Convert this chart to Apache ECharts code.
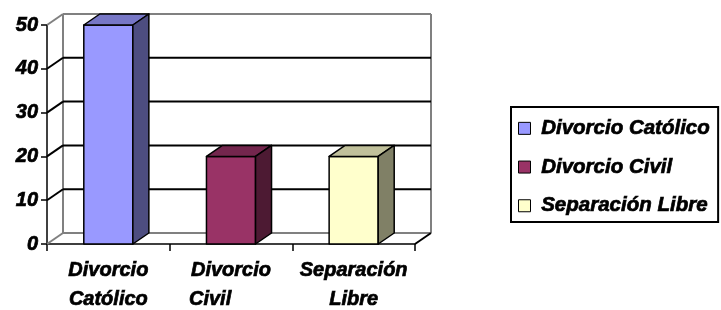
<!DOCTYPE html>
<html>
<head>
<meta charset="utf-8">
<script src="https://cdn.jsdelivr.net/npm/echarts@6/dist/echarts.min.js"></script>
<style>
  html, body { margin: 0; padding: 0; background: #fff; }
  #chart { width: 721px; height: 310px; }
</style>
</head>
<body>
<div id="chart"></div>
<script>
var categories = ['Divorcio\nCatólico', 'Divorcio\nCivil', 'Separación\nLibre'];
var seriesNames = ['Divorcio Católico', 'Divorcio Civil', 'Separación Libre'];
var values = [50, 20, 20];
var yTicks = [0, 10, 20, 30, 40, 50];

var frontColors = ['#9999FF', '#993366', '#FFFFCC'];
var topColors = ['#7777C6', '#73264D', '#C0C09A'];
var sideColors = ['#4D4D80', '#4D1A33', '#808066'];

var DX = 16, DY = -11;
var font = '"Liberation Sans", Arial, sans-serif';

var chart = echarts.init(document.getElementById('chart'));

// back wall, side wall and floor lines
function renderFrame(params, api) {
  var v = api.value(1);
  var cs = params.coordSys;
  var x0 = cs.x, x1 = cs.x + cs.width;
  var y = api.coord([0, v])[1];
  var edge = (v === 0 || v === 50);
  var col = edge ? '#808080' : '#000';
  var kids = [
    { type: 'line', shape: { x1: x0, y1: y, x2: x0 + DX, y2: y + DY },
      style: { stroke: col, lineWidth: 2 } },
    { type: 'line', shape: { x1: x0 + DX, y1: y + DY, x2: x1 + DX, y2: y + DY },
      style: { stroke: col, lineWidth: 2 } }
  ];
  if (v === 0) {
    var yTop = api.coord([0, 50])[1];
    kids.push({ type: 'line', shape: { x1: x0 + DX, y1: y + DY, x2: x0 + DX, y2: yTop + DY },
      style: { stroke: '#808080', lineWidth: 2 } });
    kids.push({ type: 'line', shape: { x1: x1 + DX, y1: y + DY, x2: x1 + DX, y2: yTop + DY },
      style: { stroke: '#808080', lineWidth: 2 } });
    kids.push({ type: 'line', shape: { x1: x1, y1: y, x2: x1 + DX, y2: y + DY },
      style: { stroke: '#000', lineWidth: 2 } });
  }
  return { type: 'group', children: kids };
}

function renderBar(params, api) {
  var i = params.seriesIndex - 1;
  var idx = api.value(0);
  var base = api.coord([idx, 0]);
  var top = api.coord([idx, api.value(1)]);
  var w = api.size([1, 0])[0] * 0.4;
  var xa = base[0] - w / 2, xb = base[0] + w / 2;
  var yb = base[1], yt = top[1];
  var st = { stroke: '#000', lineWidth: 1.5, lineJoin: 'round' };
  return {
    type: 'group',
    children: [
      { type: 'polygon', shape: { points: [[xa, yb], [xb, yb], [xb, yt], [xa, yt]] },
        style: Object.assign({ fill: frontColors[i] }, st) },
      { type: 'polygon', shape: { points: [[xa, yt], [xb, yt], [xb + DX, yt + DY], [xa + DX, yt + DY]] },
        style: Object.assign({ fill: topColors[i] }, st) },
      { type: 'polygon', shape: { points: [[xb, yb], [xb, yt], [xb + DX, yt + DY], [xb + DX, yb + DY]] },
        style: Object.assign({ fill: sideColors[i] }, st) }
    ]
  };
}

var series = [{
  type: 'custom',
  z: 1,
  clip: false,
  silent: true,
  renderItem: renderFrame,
  data: yTicks.map(function (t) { return [0, t]; })
}];
values.forEach(function (v, i) {
  series.push({
    name: seriesNames[i],
    type: 'custom',
    z: 3,
    clip: false,
    itemStyle: { color: frontColors[i] },
    renderItem: renderBar,
    data: [[i, v]]
  });
});

var txt = {
  fontFamily: font, fontSize: 20, fontWeight: 'bold', fontStyle: 'italic',
  color: '#000', textBorderColor: '#000', textBorderWidth: 0.7
};

var labelRich = {
  n: Object.assign({ lineHeight: 29 }, txt),
  l: Object.assign({ lineHeight: 29, width: 84, align: 'left' }, txt)
};

var option = {
  animation: false,
  grid: { left: 47, right: 306, top: 25, bottom: 66 },
  legend: {
    data: seriesNames,
    orient: 'vertical',
    left: 511,
    top: 107,
    padding: [11, 8, 6, 7],
    itemGap: 18,
    itemWidth: 12,
    itemHeight: 12,
    icon: 'rect',
    borderColor: '#000',
    borderWidth: 2,
    itemStyle: { borderColor: '#000', borderWidth: 1 },
    formatter: function (n) { return ' ' + n; },
    textStyle: Object.assign({ lineHeight: 20, fontSize: 20.5 }, txt, { fontSize: 20.5 })
  },
  xAxis: {
    type: 'category',
    data: categories,
    axisLine: { lineStyle: { color: '#000', width: 1.5 } },
    axisTick: { show: true, length: 7, lineStyle: { color: '#000', width: 1.5 } },
    axisLabel: {
      margin: 12,
      interval: 0,
      formatter: function (v) {
        var p = v.split('\n');
        if (p[1] === 'Civil') return '{n|' + p[0] + '}\n{l|' + p[1] + '}';
        return '{n|' + p[0] + '}\n{n|' + p[1] + '}';
      },
      rich: labelRich
    },
    splitLine: { show: false }
  },
  yAxis: {
    type: 'value',
    min: 0,
    max: 50,
    interval: 10,
    axisLine: { show: true, lineStyle: { color: '#000', width: 1.5 } },
    axisTick: { show: true, length: 6, lineStyle: { color: '#000', width: 1.5 } },
    axisLabel: Object.assign({ margin: 9 }, txt),
    splitLine: { show: false }
  },
  series: series
};

chart.setOption(option);
</script>
</body>
</html>
